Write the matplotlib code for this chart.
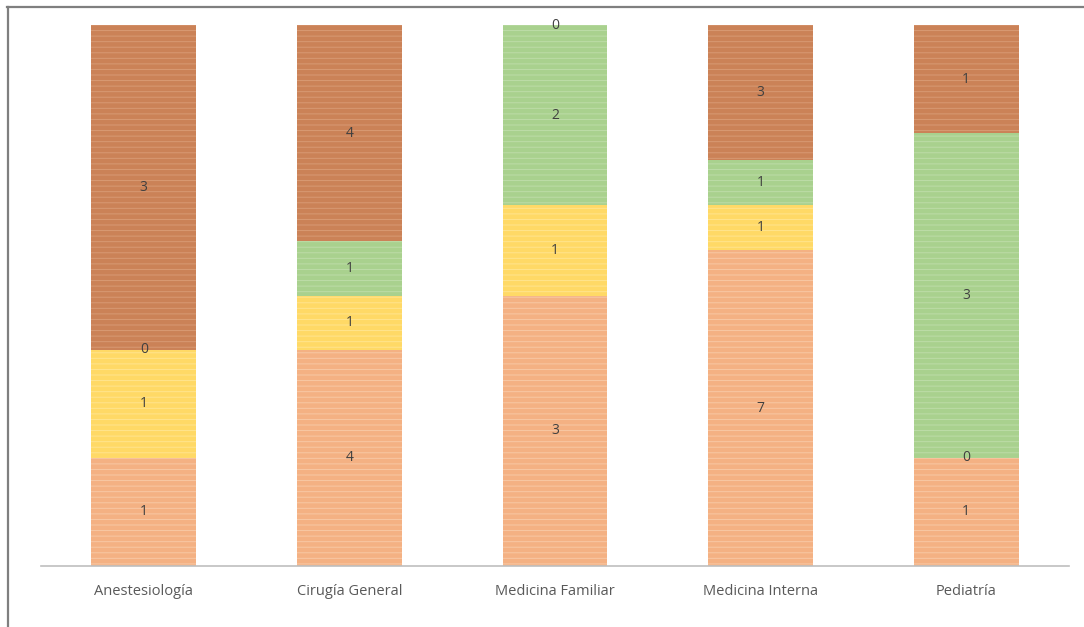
import numpy as np
import matplotlib
matplotlib.use("Agg")
import matplotlib.pyplot as plt
from matplotlib.lines import Line2D

# Counts per specialty, stacked bottom to top
categories = ["Anestesiología", "Cirugía General", "Medicina Familiar",
              "Medicina Interna", "Pediatría"]
serie_1 = [1, 4, 3, 7, 1]
serie_2 = [1, 1, 1, 1, 0]
serie_3 = [0, 1, 2, 1, 3]
serie_4 = [3, 4, 0, 3, 1]

series = [serie_1, serie_2, serie_3, serie_4]
colors = ["#F4B183", "#FFD966", "#A9D18E", "#CB8257"]
stripe = ["#F8C8A4", "#FFE48E", "#BDDCA8", "#D89A74"]

plt.rcParams['font.family'] = ['Open Sans', 'DejaVu Sans']
plt.rcParams['hatch.linewidth'] = 0.7

fig = plt.figure(figsize=(10.84, 6.27), dpi=100)
ax = fig.add_axes([41 / 1084, 61 / 627, 1028 / 1084, 541 / 627])

data = np.array(series, dtype=float)
totals = data.sum(axis=0)
pct = data / totals * 100
x = np.arange(len(categories))
bottom = np.zeros(len(categories))

for vals, p, c, s in zip(series, pct, colors, stripe):
    bars = ax.bar(x, p, bottom=bottom, width=0.51, color=c, edgecolor=s,
                  linewidth=0, hatch='---', zorder=2)
    for xi, v, pi, bi in zip(x, vals, p, bottom):
        ax.text(xi, bi + pi / 2, str(v), ha='center', va='center',
                fontsize=10, color='#404040', zorder=3)
    bottom += p

ax.set_xlim(-0.5, 4.5)
ax.set_ylim(0, 100)
ax.set_yticks([])
ax.set_xticks(x)
ax.set_xticklabels(categories, fontsize=10.5, color='#595959')
ax.tick_params(axis='x', length=0, pad=13)
for side in ['top', 'right', 'left']:
    ax.spines[side].set_visible(False)
ax.spines['bottom'].set_color('#BFBFBF')
ax.spines['bottom'].set_linewidth(1.2)

# outer frame (top and left edges)
fig.add_artist(Line2D([7.5 / 1084, 7.5 / 1084], [0, 1 - 7 / 627],
                      transform=fig.transFigure, color='#7F7F7F', lw=1.6))
fig.add_artist(Line2D([7 / 1084, 1], [1 - 7 / 627, 1 - 7 / 627],
                      transform=fig.transFigure, color='#7F7F7F', lw=1.6))

fig.savefig("out.png", dpi=100)
